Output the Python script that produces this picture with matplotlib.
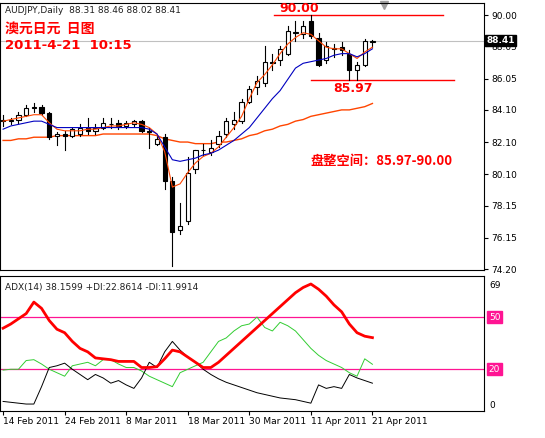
import numpy as np
import matplotlib
matplotlib.use('Agg')
import matplotlib.pyplot as plt
from matplotlib.patches import Rectangle

plt.rcParams['font.family'] = ['DejaVu Sans', 'Noto Sans CJK SC']

# daily OHLC, 14 Feb 2011 .. 21 Apr 2011
opens  = [83.5, 83.4, 83.5, 83.8, 84.2, 84.3, 83.9, 82.5, 82.6, 82.5, 82.6, 83.0, 82.8, 83.0, 83.2, 83.3, 83.1, 83.2, 83.4, 82.8,
          82.0, 82.4, 79.7, 76.6, 77.2, 80.4, 81.6, 81.5, 82.0, 82.6, 83.2, 83.4, 84.6, 85.5, 85.8, 87.1, 87.2, 87.6, 88.9, 88.8,
          89.6, 88.6, 87.2, 87.9, 88.0, 87.6, 86.6, 86.9, 88.31]
highs  = [83.8, 83.6, 84.0, 84.4, 84.5, 84.4, 84.0, 82.7, 82.8, 83.0, 83.2, 83.6, 83.2, 83.6, 83.6, 83.5, 83.4, 83.5, 83.5, 83.0,
          82.5, 82.6, 79.9, 78.3, 81.2, 81.6, 82.0, 82.2, 82.8, 83.6, 84.0, 84.8, 85.6, 86.2, 88.1, 87.6, 88.1, 89.3, 89.6, 89.6,
          90.0, 88.9, 88.3, 88.2, 88.3, 87.8, 87.1, 88.5, 88.46]
lows   = [83.1, 83.2, 83.3, 83.7, 84.0, 83.8, 82.3, 81.9, 81.6, 82.4, 82.5, 82.6, 82.6, 82.9, 83.0, 82.9, 83.0, 83.1, 82.7, 81.7,
          81.9, 79.2, 74.4, 76.4, 77.0, 80.2, 81.3, 81.3, 81.8, 82.4, 82.9, 83.3, 84.5, 85.1, 85.6, 86.6, 86.9, 87.5, 88.4, 88.6,
          88.6, 86.8, 87.0, 87.4, 87.5, 85.97, 85.97, 86.8, 88.02]
closes = [83.4, 83.5, 83.8, 84.2, 84.3, 83.9, 82.4, 82.6, 82.5, 82.9, 83.0, 82.8, 83.0, 83.3, 83.2, 83.1, 83.3, 83.4, 82.8, 82.7,
          82.3, 79.7, 76.5, 76.9, 80.2, 81.6, 81.6, 81.7, 82.5, 83.4, 83.5, 84.6, 85.4, 85.9, 87.1, 87.0, 87.9, 89.0, 88.9, 89.3,
          88.7, 86.9, 88.1, 87.9, 87.8, 86.6, 86.9, 88.4, 88.41]

ma_fast = [83.4, 83.5, 83.6, 83.7, 83.8, 83.8, 83.3, 82.9, 82.8, 82.8, 82.8, 82.9, 82.9, 83.0, 83.1, 83.1, 83.2, 83.3, 83.2, 83.0,
           82.6, 81.5, 79.3, 79.5, 80.2, 80.8, 81.2, 81.4, 81.8, 82.4, 83.0, 83.7, 84.8, 85.8, 86.3, 86.9, 87.6, 88.2, 88.6, 88.9,
           88.8, 88.4, 88.0, 87.9, 87.9, 87.6, 87.3, 87.7, 88.0]
ma_mid  = [82.9, 83.1, 83.2, 83.3, 83.4, 83.4, 83.2, 83.0, 83.0, 83.0, 83.0, 83.0, 83.0, 83.0, 83.0, 83.0, 83.0, 83.0, 83.0, 82.9,
           82.6, 81.8, 81.0, 80.9, 81.0, 81.1, 81.3, 81.4, 81.6, 81.9, 82.2, 82.6, 83.0, 83.6, 84.2, 84.8, 85.3, 86.0, 86.7, 87.0,
           87.1, 87.2, 87.3, 87.5, 87.6, 87.6, 87.4, 87.6, 87.9]
ma_slow = [82.2, 82.2, 82.3, 82.3, 82.4, 82.4, 82.4, 82.5, 82.5, 82.5, 82.5, 82.5, 82.5, 82.6, 82.6, 82.6, 82.6, 82.6, 82.6, 82.6,
           82.5, 82.3, 82.2, 82.1, 82.1, 82.0, 82.0, 82.0, 82.1, 82.1, 82.2, 82.3, 82.5, 82.6, 82.8, 82.9, 83.1, 83.2, 83.4, 83.5,
           83.7, 83.8, 83.9, 84.0, 84.1, 84.1, 84.2, 84.3, 84.5]

adx      = [43.6, 46, 49, 52, 58.6, 55, 48, 43, 41, 36, 32, 30, 26.5, 26, 25.5, 24.5, 24.5, 24.5, 21, 21,
            21.5, 26, 31, 30, 27, 24, 21, 21, 24, 28, 32, 36, 40, 44, 48, 52, 56, 60, 64, 67,
            69, 66, 62, 57, 53, 46, 41, 39, 38.16]
plus_di  = [19.5, 20, 20, 25, 25.5, 23, 20, 18, 16, 22, 23, 24, 22, 25.5, 25.5, 23, 21, 21, 19, 16,
            14, 12, 10, 18, 20, 22, 24, 30, 36, 38, 42, 45, 46, 50, 44, 42, 47, 45, 42, 37,
            32, 28, 25, 23, 21, 18, 16, 26, 22.86]
minus_di = [1.5, 1, 0.5, 0, 0, 10, 21, 22, 23.5, 20, 17, 14, 17, 15, 12, 13.5, 11, 9, 15, 24,
            21, 30, 36, 31, 27, 24, 20, 17, 14.5, 12.5, 11, 9.5, 8, 6.5, 5.5, 4.5, 3.5, 3, 2.5, 1.5,
            0.5, 11, 9, 10, 9, 17, 15, 13.5, 11.99]

date_pos = [0, 8, 16, 24, 32, 40, 48]
date_labels = ['14 Feb 2011', '24 Feb 2011', '8 Mar 2011', '18 Mar 2011', '30 Mar 2011', '11 Apr 2011', '21 Apr 2011']
price_ticks = [90.00, 88.05, 86.05, 84.10, 82.10, 80.10, 78.15, 76.15, 74.20]

W, H = 545, 438
fig = plt.figure(figsize=(W / 100, H / 100), dpi=100)
L, R = 0 / W, 484 / W
ax = fig.add_axes([L, 1 - 270 / H, R - L, 267 / H])
ax2 = fig.add_axes([L, 1 - 411 / H, R - L, 135 / H])

x = np.arange(len(closes))
xl = (-0.4, 62.5)
cw = 0.55
for i in x:
    o, h, l, c = opens[i], highs[i], lows[i], closes[i]
    ax.plot([i, i], [l, h], color='black', lw=0.8, zorder=3)
    lo, hi = min(o, c), max(o, c)
    fc = 'white' if c >= o else 'black'
    ax.add_patch(Rectangle((i - cw / 2, lo), cw, max(hi - lo, 0.03), facecolor=fc,
                           edgecolor='black', lw=0.8, zorder=4))
ax.plot(x, ma_fast, color='#FF4500', lw=0.8, zorder=5)
ax.plot(x, ma_mid, color='#0000C0', lw=0.8, zorder=5)
ax.plot(x, ma_slow, color='#FF4500', lw=1.0, zorder=2)

ax.set_xlim(*xl)
ax.set_ylim(74.14, 90.75)
ax.axhline(88.41, color='#C0C0C0', lw=0.8, zorder=1)
ax.plot([35.2, 57.2], [90.0, 90.0], color='red', lw=1.0)
ax.plot([40.0, 58.6], [85.97, 85.97], color='red', lw=1.0)
ax.text(38.5, 90.0, '90.00', color='red', fontsize=9, fontweight='bold', ha='center', va='bottom')
ax.text(45.5, 85.85, '85.97', color='red', fontsize=9, fontweight='bold', ha='center', va='top')
ax.text(40.0, 80.95, '盘整空间：85.97-90.00', color='red', fontsize=9.5, fontweight='bold',
        family=['Noto Sans CJK SC', 'DejaVu Sans'], va='center')
ax.text(0.01, 0.99, 'AUDJPY,Daily  88.31 88.46 88.02 88.41', transform=ax.transAxes,
        fontsize=6.5, va='top', color='#202020')
ax.text(0.01, 0.93, '澳元日元  日图', transform=ax.transAxes, color='red', fontsize=10,
        fontweight='bold', family=['Noto Sans CJK SC', 'DejaVu Sans'], va='top')
ax.text(0.01, 0.865, '2011-4-21  10:15', transform=ax.transAxes, color='red', fontsize=9.5,
        fontweight='bold', va='top')
ax.plot([49.5], [90.6], marker='v', color='#A0A0A0', ms=6, clip_on=False)

ax.yaxis.tick_right()
ax.set_yticks(price_ticks)
ax.set_yticklabels(['%.2f' % v for v in price_ticks], fontsize=6.5)
ax.tick_params(axis='y', length=3, pad=2)
ax.set_xticks([])
# current price box sits over the 88.05 label, as in the terminal
ax.text(1.005, (88.41 - 74.14) / (90.75 - 74.14), '88.41', transform=ax.transAxes, fontsize=6.5,
        color='white', fontweight='bold', va='center', ha='left', zorder=10,
        bbox=dict(boxstyle='square,pad=0.15', fc='black', ec='black'))

ax2.plot(x, adx, color='red', lw=2.0, zorder=4)
ax2.plot(x, plus_di, color='#32CD32', lw=0.7, zorder=3)
ax2.plot(x, minus_di, color='black', lw=0.7, zorder=3)
ax2.axhline(50, color='#FF1493', lw=0.9)
ax2.axhline(20, color='#FF1493', lw=0.9)
ax2.set_xlim(*xl)
ax2.set_ylim(-4, 73.6)
ax2.yaxis.tick_right()
ax2.set_yticks([0, 69])
ax2.set_yticklabels(['0', '69'], fontsize=6.5)
ax2.tick_params(axis='y', length=0, pad=4)
for v in (50, 20):
    ax2.text(1.01, (v + 4) / 77.6, str(v), transform=ax2.transAxes, fontsize=6.5, color='white',
             va='center', ha='left', bbox=dict(boxstyle='square,pad=0.15', fc='#FF1493', ec='#FF1493'))
ax2.text(0.01, 0.95, 'ADX(14) 38.1599 +DI:22.8614 -DI:11.9914', transform=ax2.transAxes,
         fontsize=6.5, va='top', color='#202020')
ax2.set_xticks(date_pos)
ax2.set_xticklabels(date_labels, fontsize=6.5, ha='left')
ax2.tick_params(axis='x', length=3, pad=1)

for a in (ax, ax2):
    for s in a.spines.values():
        s.set_linewidth(0.8)

fig.savefig('out.png', dpi=100)
